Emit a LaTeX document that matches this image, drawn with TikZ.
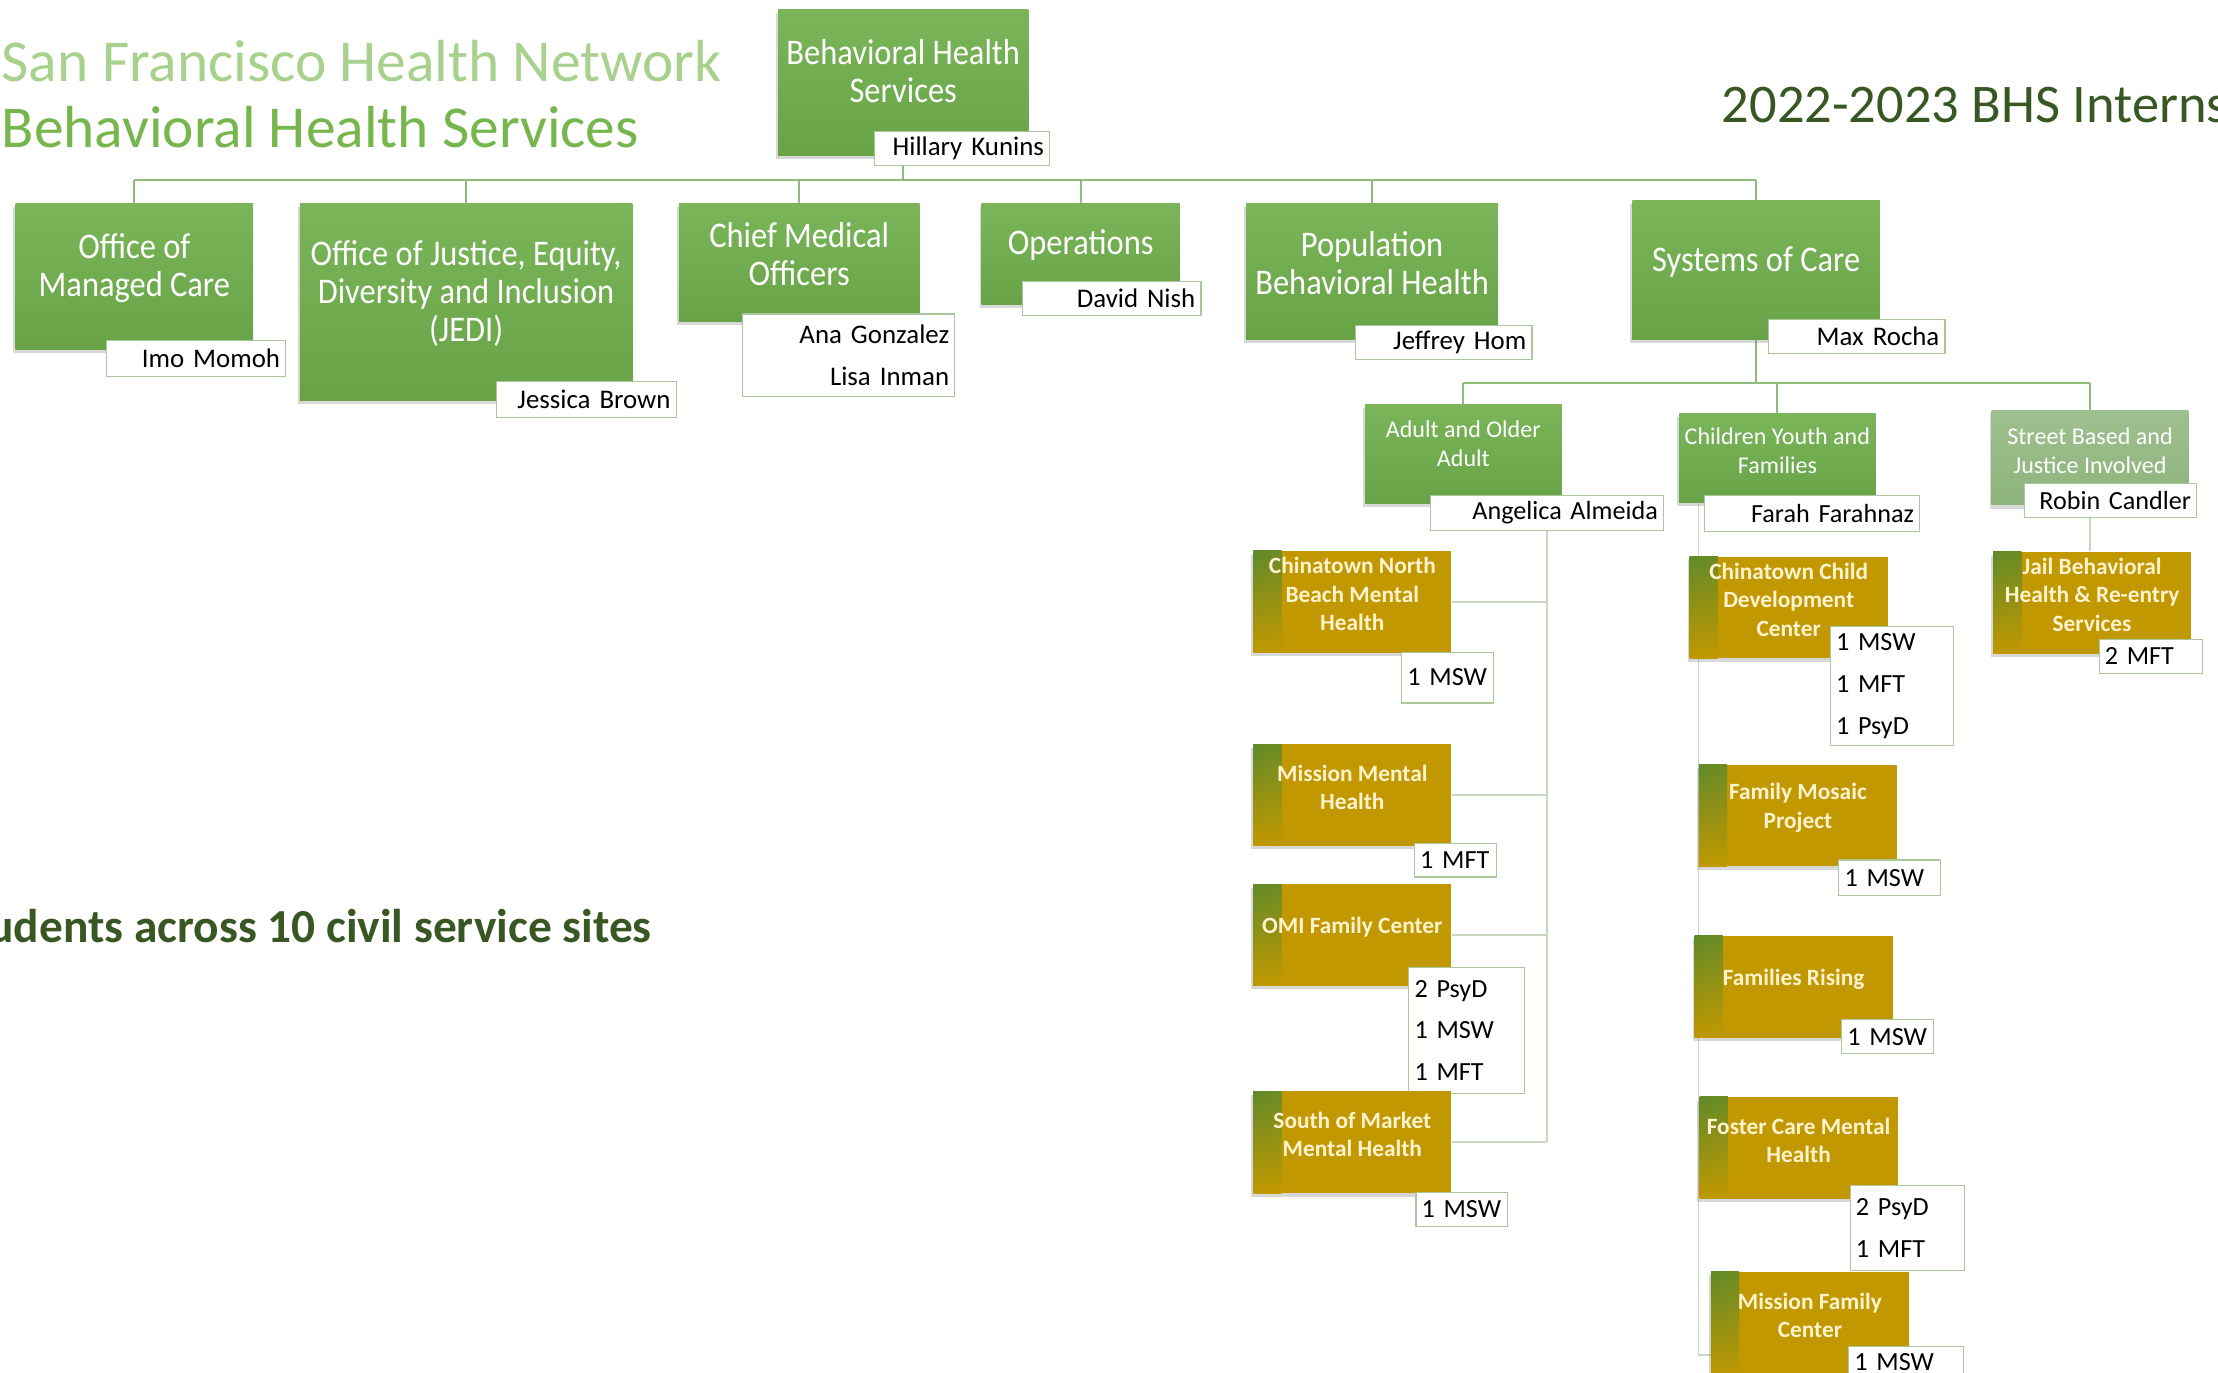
\documentclass[tikz,border=0pt]{standalone}
\usepackage{fontspec}
\setmainfont{Carlito}
\newfontfamily\narrowfont[FakeStretch=0.9]{Carlito}
\usepackage{tikz}
\usetikzlibrary{shadows,shadings,backgrounds}
\definecolor{titlelight}{RGB}{169,209,142}
\definecolor{titlegreen}{RGB}{118,182,76}
\definecolor{darkgreen}{RGB}{56,87,35}
\definecolor{boxgreen}{RGB}{104,163,72}
\definecolor{boxtop}{RGB}{122,181,90}
\definecolor{streetgreen}{RGB}{141,180,123}
\definecolor{gold}{RGB}{193,152,0}
\definecolor{goldleaf}{RGB}{96,138,42}
\definecolor{cream}{RGB}{255,243,207}
\definecolor{tagline}{RGB}{170,200,155}
\definecolor{busgreen}{RGB}{143,188,121}
\definecolor{spinegreen}{RGB}{200,216,192}

\begin{document}
\begin{tikzpicture}[x=1pt,y=-1pt,
    unit/.style={rectangle,inner sep=0pt,top color=boxtop,bottom color=boxgreen,
      drop shadow={shadow xshift=-1.5pt,shadow yshift=-2.5pt,opacity=.3}},
    toptext/.style={text=white,font=\narrowfont\fontsize{25.5}{27}\selectfont,align=center,yshift=6pt},
    subtext/.style={text=white,font=\fontsize{17}{20.5}\selectfont,align=center,yshift=5pt},
    site/.style={rectangle,inner sep=0pt,minimum width=140,minimum height=72,fill=gold,
      path picture={\shade[upper left=goldleaf,lower left=gold,upper right=gold,lower right=gold]
        (path picture bounding box.north west) rectangle ([xshift=20pt]path picture bounding box.south west);},
      drop shadow={shadow xshift=-1.5pt,shadow yshift=-2.5pt,opacity=.3}},
    sitetext/.style={text=cream,font=\bfseries\fontsize{16.5}{20}\selectfont,align=center,yshift=5.5pt},
    tag/.style={rectangle,draw=tagline,line width=.8pt,fill=white,inner xsep=4pt,inner ysep=0pt,
      align=right,font=\fontsize{19}{30}\selectfont},
    subtag/.style={tag,font=\fontsize{18.5}{30}\selectfont},
    count/.style={tag,align=left,font=\fontsize{18.5}{29.5}\selectfont},
    busline/.style={busgreen,line width=1.4pt},
    spine/.style={spinegreen,line width=1.2pt}]

  \useasboundingbox (0,0) rectangle (1568,970.6);

  % Titles
  \node[anchor=west,inner sep=0pt,text=titlelight,font=\fontsize{42}{44}\selectfont] (sfhn) at (1,43) {San Francisco Health Network};
  \node[anchor=west,inner sep=0pt,text=titlegreen,font=\fontsize{42}{44}\selectfont] (bhstitle) at (1,90) {Behavioral Health Services};
  \node[anchor=west,inner sep=0pt,text=darkgreen,font=\fontsize{38.5}{40}\selectfont] (year) at (1217,74) {2022-2023 BHS Interns};
  \node[anchor=east,inner sep=0pt,text=darkgreen,font=\bfseries\fontsize{33.5}{36}\selectfont] (sites) at (461,655) {udents across 10 civil service sites};

  % Director
  \node[unit,minimum width=177,minimum height=103,label={[toptext,yshift=2.5pt]center:Behavioral Health\\Services}] (bhs) at (638.5,58.5) {};
  \node[tag,text width=116,minimum height=24] (bhs-tag) at (680,105) {Hillary Kunins};

  % First row
  \node[unit,minimum width=168,minimum height=103,label={[toptext]center:Office of\\Managed Care}] (omc) at (95,195.5) {};
  \node[tag,text width=119,minimum height=25] (omc-tag) at (138.5,253.5) {Imo Momoh};

  \node[unit,minimum width=235,minimum height=139,label={[toptext]center:Office of Justice, Equity,\\Diversity and Inclusion\\(JEDI)}] (jedi) at (329.5,213.5) {};
  \node[tag,text width=119,minimum height=25] (jedi-tag) at (414.5,282.5) {Jessica Brown};

  \node[unit,minimum width=170,minimum height=83,label={[toptext]center:Chief Medical\\Officers}] (cmo) at (565,185.5) {};
  \node[tag,text width=142,minimum height=58] (cmo-tag) at (600,251) {Ana Gonzalez\\Lisa Inman};

  \node[unit,minimum width=140,minimum height=71,label={[toptext]center:Operations}] (ops) at (764,179.5) {};
  \node[tag,text width=118,minimum height=24] (ops-tag) at (786,211) {David Nish};

  \node[unit,minimum width=178,minimum height=96,label={[toptext]center:Population\\Behavioral Health}] (pbh) at (970,192) {};
  \node[tag,text width=117,minimum height=24] (pbh-tag) at (1020.5,242) {Jeffrey Hom};

  \node[unit,minimum width=175,minimum height=98,label={[toptext]center:Systems of Care}] (soc) at (1241.5,191) {};
  \node[tag,text width=117,minimum height=24] (soc-tag) at (1312.5,238) {Max Rocha};

  % Systems of Care
  \node[unit,minimum width=139,minimum height=70,label={[subtext,yshift=2pt]center:Adult and Older\\Adult}] (aoa) at (1034.5,321) {};
  \node[subtag,text width=157,minimum height=25] (aoa-tag) at (1093.5,362.5) {Angelica Almeida};

  \node[unit,minimum width=139,minimum height=63,label={[subtext]center:Children Youth and\\Families}] (cyf) at (1256.5,323.5) {};
  \node[subtag,text width=144,minimum height=26] (cyf-tag) at (1281,363) {Farah Farahnaz};

  \node[unit,top color=streetgreen!85!white,bottom color=streetgreen,minimum width=139,minimum height=67,
    label={[subtext]center:Street Based and\\Justice Involved}] (sbji) at (1477.5,323.5) {};
  \node[subtag,text width=114,minimum height=24] (sbji-tag) at (1492,354) {Robin Candler};

  % Adult sites
  \node[site,label={[sitetext]center:Chinatown North\\Beach Mental\\Health}] (cnb) at (956,425.5) {};
  \node[count,text width=57,minimum height=36] (cnb-tag) at (1023.5,479) {1 MSW};
  \node[site,label={[sitetext]center:Mission Mental\\Health}] (mmh) at (956,562) {};
  \node[count,text width=50,minimum height=24] (mmh-tag) at (1029,608) {1 MFT};
  \node[site,label={[sitetext]center:OMI Family Center}] (omi) at (956,661) {};
  \node[count,text width=74,minimum height=89] (omi-tag) at (1037,728.5) {2 PsyD\\1 MSW\\1 MFT};
  \node[site,label={[sitetext]center:South of Market\\Mental Health}] (soma) at (956,807.5) {};
  \node[count,text width=57,minimum height=24] (soma-tag) at (1033.5,855) {1 MSW};

  % Children sites
  \node[site,label={[sitetext]center:Chinatown Child\\Development\\Center}] (ccdc) at (1264.5,429.5) {};
  \node[count,text width=79,minimum height=84] (ccdc-tag) at (1337.5,485) {1 MSW\\1 MFT\\1 PsyD};
  \node[site,label={[sitetext]center:Family Mosaic\\Project}] (fmp) at (1271,576.5) {};
  \node[count,text width=64,minimum height=25] (fmp-tag) at (1336,620.5) {1 MSW};
  \node[site,label={[sitetext]center:Families Rising}] (fr) at (1268,697.5) {};
  \node[count,text width=57,minimum height=24] (fr-tag) at (1334.5,733) {1 MSW};
  \node[site,label={[sitetext]center:Foster Care Mental\\Health}] (fcmh) at (1271.5,811.5) {};
  \node[count,text width=73,minimum height=60] (fcmh-tag) at (1348.5,868) {2 PsyD\\1 MFT};
  \node[site,minimum height=76,label={[sitetext,yshift=1.5pt]center:Mission Family\\Center}] (mfc) at (1279.5,937) {};
  \node[count,text width=73,minimum height=22] (mfc-tag) at (1347.5,963) {1 MSW};

  % Street based site
  \node[site,label={[sitetext]center:Jail Behavioral\\Health \& Re-entry\\Services}] (jail) at (1479,426) {};
  \node[count,text width=65,minimum height=24] (jail-tag) at (1520.5,464) {2 MFT};

  % Connectors
  \begin{scope}[on background layer]
    \fill[white] (0,0) rectangle (1568,970.6);
    \coordinate (bus) at (0,127);
    \draw[busline] (bhs.center) -- (bhs |- bus);
    \draw[busline] (omc |- bus) -- (soc |- bus);
    \foreach \n in {omc,jedi,cmo,ops,pbh,soc}
      \draw[busline] (\n |- bus) -- (\n.north);

    \coordinate (socbus) at (0,271);
    \draw[busline] (soc.center) -- (soc |- socbus);
    \draw[busline] (aoa |- socbus) -- (sbji |- socbus);
    \foreach \n in {aoa,cyf,sbji}
      \draw[busline] (\n |- socbus) -- (\n.north);
    \draw[spine] (sbji.center) -- (sbji |- jail.north);

    \draw[spine] (aoa-tag.center) -- (aoa-tag.center |- soma.east);
    \foreach \n in {cnb,mmh,omi,soma}
      \draw[spine] (\n.east) -- (\n.east -| aoa-tag.center);

    \coordinate (cyfspine) at ([xshift=14pt]cyf.south west);
    \draw[spine] (cyfspine) |- ([yshift=-21pt]mfc.west);
  \end{scope}
\end{tikzpicture}
\end{document}
